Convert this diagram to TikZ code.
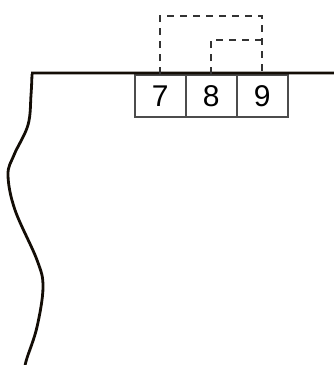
\documentclass[tikz,border=0pt]{standalone}
\usepackage{fontspec}
\setmainfont{Liberation Sans}
\begin{document}
\begin{tikzpicture}[x=1pt,y=-1pt,
  cell/.style={draw=black!70, line width=1.5pt, minimum width=51pt, minimum height=42pt, inner sep=0pt, anchor=north west, font=\fontsize{30}{31}\selectfont},
  wire/.style={draw=black!80, line width=1.6pt, dash pattern=on 7pt off 6pt},
  edge/.style={draw=black!90!brown, line width=2.8pt}]
\useasboundingbox (0,0) rectangle (334,365);
\node[cell] (b7) at (134,74) {7};
\node[cell] (b8) at (185,74) {8};
\node[cell] (b9) at (236,74) {9};
\coordinate (tl) at (31,73);
\coordinate (tr) at (334,73);
\draw[edge] (tr) -- (tl) plot[smooth, tension=0.6] coordinates {(32,74) (31,95) (28,125) (14,155) (8,175) (15,210) (37,260) (43,287) (37,327) (27,358) (25,366)};
\draw[wire] (b7.north) -- ++(0,-58) coordinate (t7) -| (b9.north);
\coordinate (j9) at (b9.north |- 0,40);
\draw[wire] (b8.north) |- (j9);
\end{tikzpicture}
\end{document}
